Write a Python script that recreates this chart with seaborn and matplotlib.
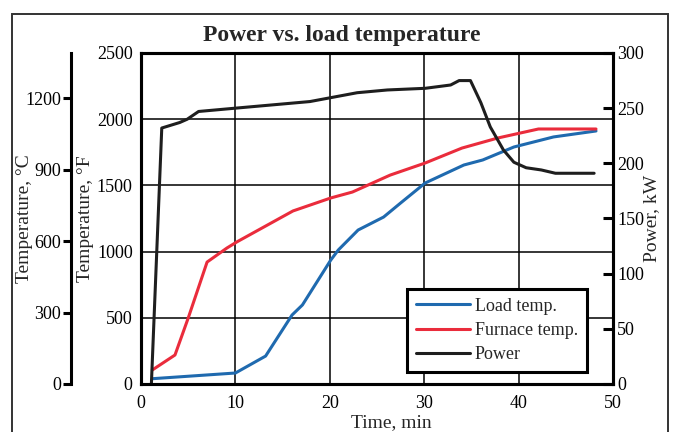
import numpy as np
import pandas as pd
import matplotlib.pyplot as plt
import seaborn as sns
from matplotlib.patches import Rectangle
from matplotlib.lines import Line2D

# ---- data ----
power_time = [1.1, 2.2, 4.1, 4.9, 6.1, 10.0, 17.9, 20.4, 22.9, 26.1, 30.1,
              32.8, 33.7, 34.9, 36.0, 37.0, 38.4, 39.5, 40.8, 42.4, 43.9, 48.0]
power_kw = [0, 232, 237, 240, 247, 250, 256, 260, 264, 266.5, 268,
            271, 275, 275, 255, 233, 212, 201, 196, 194, 191, 191]

furnace_time = [1.2, 3.6, 5.0, 7.0, 9.1, 10.2, 16.1, 20.1, 22.4, 26.4, 30.1,
                34.0, 37.8, 42.1, 48.2]
furnace_f = [106, 219, 498, 921, 1027, 1075, 1307, 1405, 1450, 1578, 1669,
             1782, 1858, 1926, 1926]

load_time = [1.2, 10.0, 13.2, 16.0, 17.1, 20.1, 20.9, 23.0, 25.7, 27.5, 30.1,
             34.2, 36.2, 39.5, 43.7, 48.2]
load_f = [40, 83, 211, 521, 597, 936, 1012, 1163, 1261, 1367, 1518,
          1654, 1692, 1790, 1866, 1911]

c_ticks = [0, 300, 600, 900, 1200]
f_ticks = [0, 500, 1000, 1500, 2000, 2500]
kw_ticks = [0, 50, 100, 150, 200, 250, 300]
t_ticks = [0, 10, 20, 30, 40, 50]

BLUE = "#1f6aaf"
RED = "#ea2c3c"
BLACK = "#1e1e1e"

sns.set_theme(style="white")
plt.rcParams["font.family"] = ["Liberation Serif", "DejaVu Serif"]
plt.rcParams["axes.linewidth"] = 2.2

fig = plt.figure(figsize=(6.73, 4.32), dpi=100)
ax = fig.add_axes([141 / 673, 1 - 384 / 432, 472 / 673, 331 / 432])

load_df = pd.DataFrame({"time": load_time, "temp": load_f})
furn_df = pd.DataFrame({"time": furnace_time, "temp": furnace_f})
pow_df = pd.DataFrame({"time": power_time, "kw": power_kw})

sns.lineplot(data=load_df, x="time", y="temp", ax=ax, color=BLUE, lw=2.2, zorder=3)
sns.lineplot(data=furn_df, x="time", y="temp", ax=ax, color=RED, lw=2.2, zorder=3)

ax.set_xlim(0, 50)
ax.set_ylim(0, 2500)
ax.set_xticks(t_ticks)
ax.set_yticks(f_ticks)
ax.grid(True, color="black", lw=1.1)
ax.set_axisbelow(True)
ax.tick_params(axis="both", length=0, labelsize=13, colors="black")
ax.tick_params(axis="x", pad=8)
ax.tick_params(axis="y", pad=6)
for s in ax.spines.values():
    s.set_color("black")
ax.set_xlabel("Time, min", fontsize=14)
ax.xaxis.set_label_coords(0.53, -0.092)
ax.set_ylabel("Temperature, °F", fontsize=14)
ax.yaxis.set_label_coords(-0.1, 0.5)

# power axis on the right
ax2 = ax.twinx()
sns.lineplot(data=pow_df, x="time", y="kw", ax=ax2, color=BLACK, lw=2.2)
ax2.set_ylim(0, 300)
ax2.set_yticks(kw_ticks)
ax2.tick_params(axis="y", direction="in", length=7, width=2.2, labelsize=13,
                pad=3, colors="black")
ax2.set_ylabel("Power, kW", fontsize=14)
ax2.yaxis.set_label_coords(1.064, 0.5)
for s in ax2.spines.values():
    s.set_color("black")

# outer Celsius axis, 70 px left of the main axes
ax3 = ax.twinx()
ax3.spines["left"].set_position(("outward", 70 * 72 / 100))
ax3.spines["left"].set_visible(True)
ax3.spines["left"].set_color("black")
for side in ["right", "top", "bottom"]:
    ax3.spines[side].set_visible(False)
ax3.yaxis.set_ticks_position("left")
ax3.yaxis.set_label_position("left")
ax3.set_ylim(0, 2500 / 1.8)
ax3.set_yticks(c_ticks)
ax3.tick_params(axis="y", direction="out", length=6, width=2.2, labelsize=13,
                pad=1, colors="black")
ax3.set_ylabel("Temperature, °C", fontsize=14)
ax3.yaxis.set_label_coords(-0.229, 0.5)
ax3.patch.set_visible(False)

handles = [Line2D([], [], color=BLUE, lw=2.2),
           Line2D([], [], color=RED, lw=2.2),
           Line2D([], [], color=BLACK, lw=2.2)]
leg = ax2.legend(handles, ["Load temp.", "Furnace temp.", "Power"],
                 loc="lower left", bbox_to_anchor=(0.564, 0.036),
                 borderaxespad=0, fontsize=13, handlelength=3.0,
                 handletextpad=0.25, labelspacing=0.4, borderpad=0.5,
                 fancybox=False, framealpha=1, edgecolor="black")
leg.get_frame().set_linewidth(2.2)

fig.suptitle("Power vs. load temperature", fontsize=17, fontweight="bold",
             x=342 / 673, y=1 - 35 / 432, va="center")

fig.patches.append(Rectangle((12 / 673, -0.1), 656 / 673, 1.1 - 14 / 432,
                             transform=fig.transFigure, fill=False,
                             edgecolor="#333333", lw=1.4))

fig.savefig("out.png", dpi=100)
